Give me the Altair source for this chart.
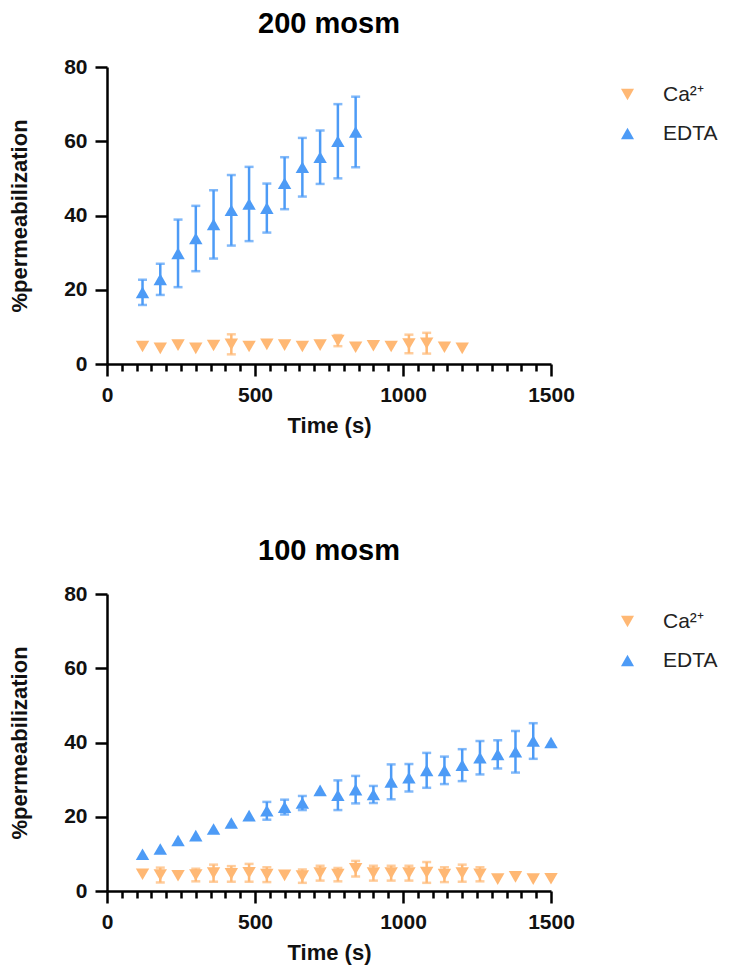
import altair as alt
import pandas as pd

CA_LABEL = "Ca²⁺"
EDTA_LABEL = "EDTA"
ORANGE = "#FFB874"
BLUE = "#4D9BF6"

# ---- 200 mosm ----
t200_edta = [120, 180, 240, 300, 360, 420, 480, 540, 600, 660, 720, 780, 840]
m200_edta = [19.3, 22.8, 29.8, 33.8, 37.6, 41.4, 43.1, 42.0, 48.7, 53.0, 55.7, 60.0, 62.5]
s200_edta = [3.4, 4.2, 9.1, 8.8, 9.2, 9.5, 10.0, 6.6, 7.0, 7.9, 7.2, 10.0, 9.5]

t200_ca = [120, 180, 240, 300, 360, 420, 480, 540, 600, 660, 720, 780, 840, 900, 960,
           1020, 1080, 1140, 1200]
m200_ca = [4.7, 4.2, 5.1, 4.2, 5.0, 5.3, 4.7, 5.3, 5.1, 4.7, 5.1, 6.3, 4.5, 4.9, 4.7,
           5.4, 5.6, 4.5, 4.2]
s200_ca = [0, 0, 0, 0, 0, 2.7, 0, 0, 0, 0, 0, 1.5, 0, 0, 0, 2.5, 2.8, 0, 0]

# ---- 100 mosm ----
t100_edta = [120, 180, 240, 300, 360, 420, 480, 540, 600, 660, 720, 780, 840, 900, 960,
             1020, 1080, 1140, 1200, 1260, 1320, 1380, 1440, 1500]
m100_edta = [9.9, 11.3, 13.6, 14.9, 16.7, 18.3, 20.3, 21.6, 22.6, 23.7, 27.1, 25.8,
             27.3, 26.0, 29.4, 30.5, 32.5, 32.5, 33.9, 35.9, 36.8, 37.5, 40.4, 40.0]
s100_edta = [0, 0, 0, 0, 0, 0, 0, 2.4, 2.0, 1.9, 0, 4.0, 3.7, 2.3, 4.7, 3.7, 4.7,
             3.7, 4.3, 4.5, 3.8, 5.6, 4.8, 0]

t100_ca = [120, 180, 240, 300, 360, 420, 480, 540, 600, 660, 720, 780, 840, 900, 960,
           1020, 1080, 1140, 1200, 1260, 1320, 1380, 1440, 1500]
m100_ca = [4.5, 4.3, 4.1, 4.3, 4.8, 4.6, 4.9, 4.4, 4.2, 4.0, 4.8, 4.4, 6.0, 4.8,
           4.8, 4.8, 5.0, 4.4, 4.8, 4.5, 3.2, 3.8, 3.2, 3.3]
s100_ca = [0, 2.0, 0, 1.7, 2.3, 2.1, 2.4, 2.0, 0, 1.8, 2.0, 1.8, 2.1, 2.0, 2.0,
           2.0, 2.8, 2.0, 2.3, 1.9, 0, 0, 0, 0]


def make_df(t_ca, m_ca, s_ca, t_ed, m_ed, s_ed):
    rows = []
    for t, m, s in zip(t_ca, m_ca, s_ca):
        rows.append({"series": CA_LABEL, "t": t, "mean": m, "sd": s, "lo": m - s, "hi": m + s})
    for t, m, s in zip(t_ed, m_ed, s_ed):
        rows.append({"series": EDTA_LABEL, "t": t, "mean": m, "sd": s, "lo": m - s, "hi": m + s})
    return pd.DataFrame(rows)


FONT = "Liberation Sans"


def panel(title, df):
    base = alt.Chart(df)
    x_axis = alt.Axis(
        values=list(range(0, 1501, 50)),
        labelExpr="datum.value % 500 === 0 ? datum.label : ''",
        format="d",
        tickSize={"condition": {"test": "datum.value % 500 === 0", "value": 12}, "value": 7},
        labelOverlap=False,
        labelFlush=False,
        title="Time (s)",
    )
    y_axis = alt.Axis(values=[0, 20, 40, 60, 80], title="%permeabilization", tickSize=12)
    xs = alt.Scale(domain=[0, 1500], nice=False)
    ys = alt.Scale(domain=[0, 80], nice=False)
    cscale = alt.Scale(domain=[CA_LABEL, EDTA_LABEL], range=[ORANGE, BLUE])
    sscale = alt.Scale(domain=[CA_LABEL, EDTA_LABEL], range=["triangle-down", "triangle-up"])
    legend = alt.Legend(
        orient="none", legendX=510, legendY=17, title=None, padding=0,
        labelFontSize=21, labelFont=FONT, labelColor="#222222",
        symbolSize=170, labelOffset=25, rowPadding=17, symbolStrokeWidth=0,
    )

    def err_layer(series, color):
        return base.transform_filter(
            f"datum.sd > 0 && datum.series === '{series}'"
        ).mark_errorbar(ticks=True, thickness=2.5, size=9, color=color).encode(
            x=alt.X("t:Q", scale=xs, axis=x_axis),
            y=alt.Y("lo:Q", scale=ys, axis=y_axis),
            y2="hi:Q",
        )

    pts = base.mark_point(filled=True, size=180, opacity=1).encode(
        x=alt.X("t:Q", scale=xs, axis=x_axis),
        y=alt.Y("mean:Q", scale=ys, axis=y_axis),
        color=alt.Color("series:N", scale=cscale, legend=legend),
        shape=alt.Shape("series:N", scale=sscale, legend=legend),
    )
    return alt.layer(err_layer(CA_LABEL, ORANGE), err_layer(EDTA_LABEL, BLUE), pts).properties(
        width=444, height=297,
        title=alt.TitleParams(title, fontSize=29, fontWeight="bold", font=FONT,
                              anchor="middle", offset=17, color="black"),
    )


df200 = make_df(t200_ca, m200_ca, s200_ca, t200_edta, m200_edta, s200_edta)
df100 = make_df(t100_ca, m100_ca, s100_ca, t100_edta, m100_edta, s100_edta)

chart = alt.vconcat(
    panel("200 mosm", df200),
    panel("100 mosm", df100),
    spacing=101,
).resolve_scale(color="independent", shape="independent").configure_view(
    stroke=None
).configure_axis(
    grid=False,
    domainColor="black", domainWidth=2.5,
    tickColor="black", tickWidth=2.5,
    labelFont=FONT, labelFontSize=21, labelFontWeight="bold", labelColor="#111111",
    labelPadding=8,
    titleFont=FONT, titleFontSize=22, titleFontWeight="bold", titleColor="#111111",
).configure_axisY(titlePadding=32).configure_axisX(titlePadding=10).properties(
    padding={"left": 0, "top": 2, "right": 0, "bottom": 2}
)

chart.save("out.html", embed_options={"renderer": "svg", "actions": False})
